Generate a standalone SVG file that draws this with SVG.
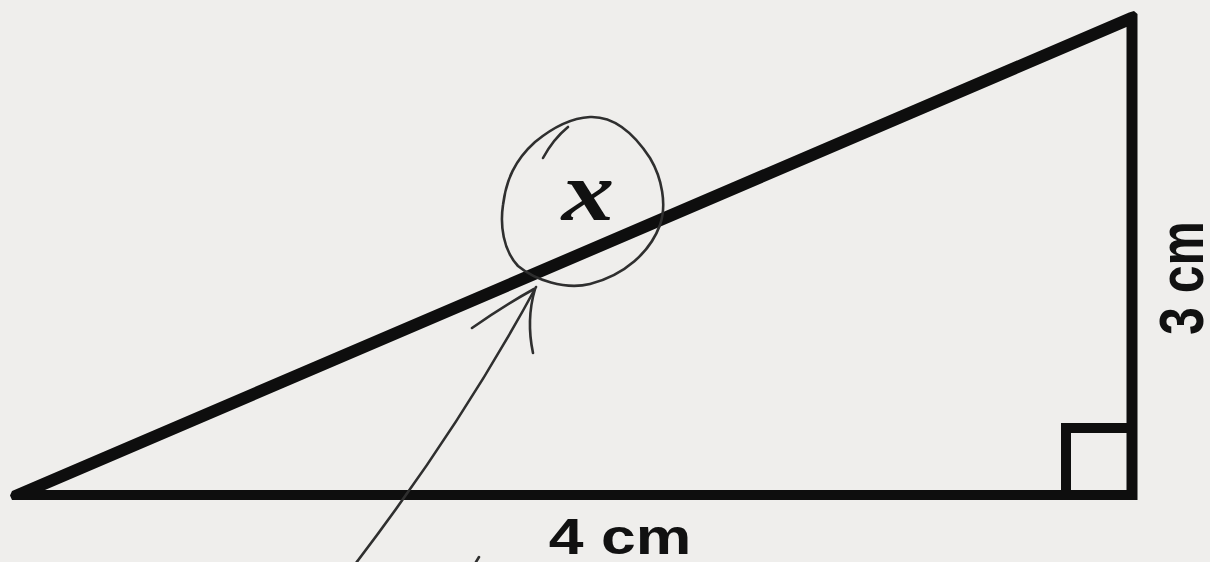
<svg xmlns="http://www.w3.org/2000/svg" width="1210" height="562" viewBox="0 0 1210 562">
<style>
.edge{fill:#0e0e0e;stroke:none}
.sq{stroke:#0e0e0e;fill:none;stroke-width:10;stroke-linecap:butt;stroke-linejoin:miter}
.pen{stroke:#2f2f2f;fill:none;stroke-width:2.6;stroke-linecap:round;stroke-linejoin:round}
.lbl{font-family:"Liberation Sans",Arial,sans-serif;font-weight:bold;font-size:50px;fill:#111}
.var{font-family:"Liberation Serif","Times New Roman",serif;font-weight:bold;font-style:italic;font-size:84px;fill:#111}
</style>
<rect width="1210" height="562" fill="#efeeec"/>
<g id="triangle">
<path class="edge" fill-rule="evenodd" d="M12,500 L1137.5,500 L1137.5,14 L1134,11 L1129,12.5 L12,491 L10,495.5 Z M45,490 L1126.5,490 L1126.5,27 Z"/>
<path class="sq" d="M1066,495 L1066,428 L1132,428"/>
</g>
<g id="label-4cm">
<text class="lbl" text-anchor="middle" transform="translate(620,554) scale(1.25,1)">4 cm</text>
</g>
<g id="label-3cm">
<text class="lbl" text-anchor="middle" transform="translate(1203,278) scale(1.25,1) rotate(-90)">3 cm</text>
</g>
<g id="unknown-x">
<path class="pen" d="M590,117 C615,116 635,135 650,158 C662,178 667,205 660,225 C650,252 625,275 590,284 C565,290 535,280 518,266 C503,250 500,225 503,205 C506,180 515,160 535,142 C552,128 570,118 590,117"/>
<path class="pen" d="M543,158 C550,145 557,136 568,127"/>
<text class="var" text-anchor="middle" transform="translate(588,220) scale(1.25,1)">x</text>
</g>
<g id="connectors">
<path class="pen" d="M356,563 Q462,424 536,287"/>
<path class="pen" d="M472,328 Q505,305 534,289"/>
<path class="pen" d="M533,353 Q526,320 535,289"/>
<path class="pen" d="M476,562 L479,557"/>
</g>
</svg>
